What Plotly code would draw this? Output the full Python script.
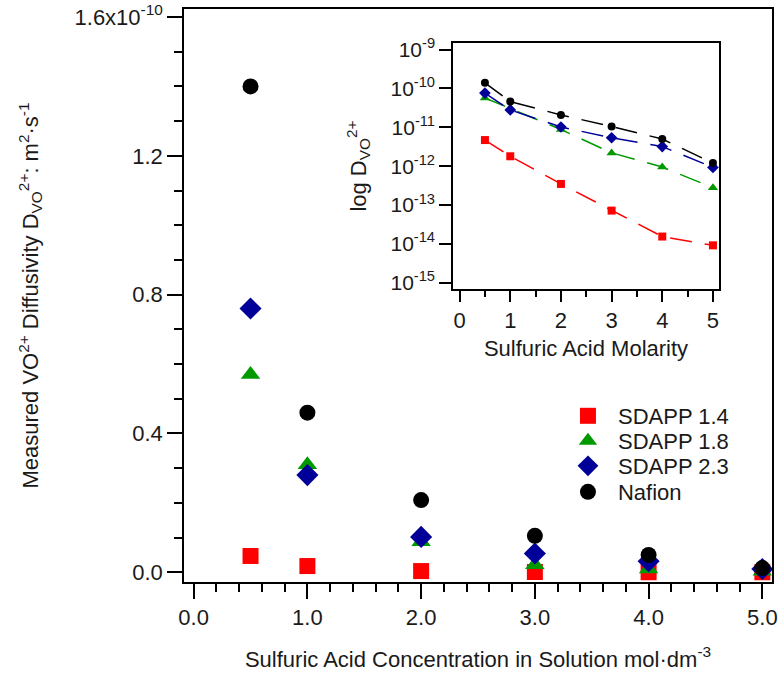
import plotly.graph_objects as go

# Data (diffusivity in m^2/s)
molarity = [0.5, 1.0, 2.0, 3.0, 4.0, 5.0]
sdapp_14 = [4.7e-12, 1.8e-12, 3.5e-13, 7.2e-14, 1.55e-14, 9.2e-15]
sdapp_18 = [5.7e-11, 3.1e-11, 8.8e-12, 2.2e-12, 9.5e-13, 2.8e-13]
sdapp_23 = [7.6e-11, 2.8e-11, 1.02e-11, 5.4e-12, 3.2e-12, 9.3e-13]
nafion = [1.40e-10, 4.6e-11, 2.08e-11, 1.05e-11, 5.0e-12, 1.2e-12]

series_names = ["SDAPP 1.4", "SDAPP 1.8", "SDAPP 2.3", "Nafion"]
series_values = [sdapp_14, sdapp_18, sdapp_23, nafion]
colors = ["#FF0000", "#009A00", "#000099", "#000000"]
symbols = ["square", "triangle-up", "diamond", "circle"]
main_sizes = [16, 17, 17, 16]
inset_sizes = [8, 9, 9, 8]

main_ytickvals = [0, 0.4e-10, 0.8e-10, 1.2e-10, 1.6e-10]
main_yticktext = ["0.0", "0.4", "0.8", "1.2", "1.6x10<sup>-10</sup>"]
main_xtickvals = [0, 1, 2, 3, 4, 5]
main_xticktext = ["0.0", "1.0", "2.0", "3.0", "4.0", "5.0"]
inset_ytickvals = [1e-15, 1e-14, 1e-13, 1e-12, 1e-11, 1e-10, 1e-9]
inset_yticktext = ["10<sup>-15</sup>", "10<sup>-14</sup>", "10<sup>-13</sup>", "10<sup>-12</sup>",
                   "10<sup>-11</sup>", "10<sup>-10</sup>", "10<sup>-9</sup>"]

FONT = "Arial, Liberation Sans, sans-serif"
TXT = "#1a1a1a"

fig = go.Figure()

# main scatter (linear), one small legend per entry so the rows sit tight
legend_ids = ["legend", "legend2", "legend3", "legend4"]
for name, vals, c, s, sz, lg in zip(series_names, series_values, colors, symbols, main_sizes, legend_ids):
    fig.add_trace(go.Scatter(
        x=molarity, y=vals, name=name, mode="markers", legend=lg,
        marker=dict(symbol=s, size=sz, color=c, line=dict(width=0)),
        xaxis="x", yaxis="y",
    ))

# inset (log)
for name, vals, c, s, sz in zip(series_names, series_values, colors, symbols, inset_sizes):
    fig.add_trace(go.Scatter(
        x=molarity, y=vals, name=name, mode="lines+markers", showlegend=False,
        line=dict(color=c, width=1.5, dash="22px,13px"),
        marker=dict(symbol=s, size=sz, color=c, line=dict(width=0)),
        xaxis="x2", yaxis="y2",
    ))

axis_common = dict(showline=True, linecolor="black", linewidth=1.5, mirror=True,
                   showgrid=False, zeroline=False, ticks="outside", tickcolor="black",
                   tickwidth=1.5, automargin=False)
minor_common = dict(ticks="outside", tickcolor="black", tickwidth=1.5)

fig.update_layout(
    width=780, height=675,
    margin=dict(l=184, r=8, t=9, b=93),
    paper_bgcolor="white", plot_bgcolor="white",
    font=dict(family=FONT, size=22, color=TXT),
    xaxis=dict(
        **axis_common, range=[-0.085, 5.085], ticklen=15,
        tickmode="array", tickvals=main_xtickvals, ticktext=main_xticktext,
        minor=dict(**minor_common, tick0=0, dtick=0.2, ticklen=8),
        title=dict(text="Sulfuric Acid Concentration in Solution mol·dm<sup>-3</sup>",
                   font=dict(size=22), standoff=22),
    ),
    yaxis=dict(
        **axis_common, range=[-0.028e-10, 1.623e-10], ticklen=15,
        tickmode="array", tickvals=main_ytickvals, ticktext=main_yticktext,
        minor=dict(**minor_common, tick0=0, dtick=0.1e-10, ticklen=8),
        title=dict(text="Measured VO<sup>2+</sup> Diffusivity D<sub>VO</sub><sup>2+</sup>: m<sup>2</sup>·s<sup>-1</sup>",
                   font=dict(size=22), standoff=30),
    ),
    xaxis2=dict(
        **axis_common, domain=[0.4575, 0.9099], anchor="y2", range=[-0.13, 5.12],
        ticklen=11, tickmode="array", tickvals=[0, 1, 2, 3, 4, 5],
        minor=dict(**minor_common, tick0=0, dtick=0.5, ticklen=6),
        tickfont=dict(size=22),
        title=dict(text="Sulfuric Acid Molarity", font=dict(size=22), standoff=8),
    ),
    yaxis2=dict(
        **axis_common, domain=[0.5113, 0.9407], anchor="x2", type="log", range=[-15.16, -8.83],
        ticklen=12, tickmode="array", tickvals=inset_ytickvals, ticktext=inset_yticktext,
        tickfont=dict(size=21),
        title=dict(text="log D<sub>VO</sub><sup>2+</sup>", font=dict(size=22), standoff=18),
    ),
)

legend_rows_px = [416, 441, 466, 492]
for lg, yc in zip(legend_ids, legend_rows_px):
    fig.update_layout({lg: dict(
        x=0.636, y=(582 - yc) / 573, xanchor="left", yanchor="middle",
        bgcolor="rgba(0,0,0,0)", font=dict(size=22, color=TXT), itemwidth=50,
    )})

fig.write_html("out.html", config={"displayModeBar": False},
               post_script="document.body.style.margin='0px';")
